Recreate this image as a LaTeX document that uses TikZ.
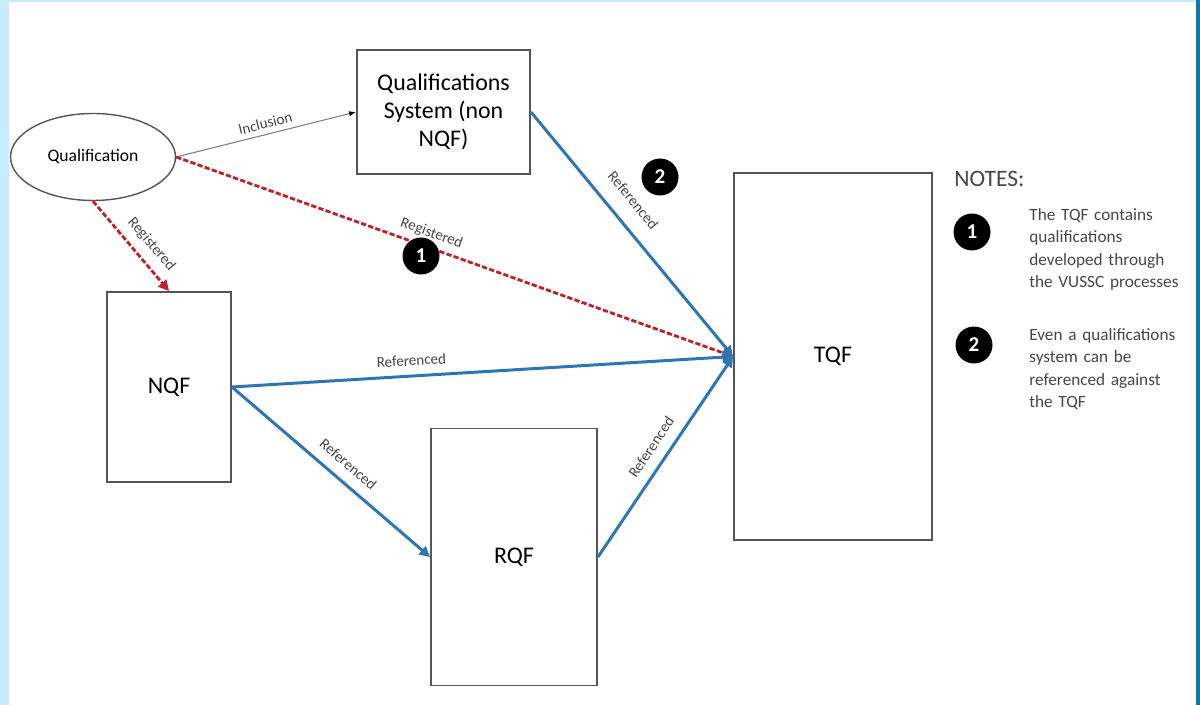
\documentclass[tikz,border=0pt]{standalone}
\usepackage{fontspec}
\setmainfont{Carlito}
\usetikzlibrary{shapes.geometric,arrows.meta}

\definecolor{refblue}{RGB}{46,117,182}
\definecolor{regred}{RGB}{192,32,40}
\definecolor{boxgray}{RGB}{85,85,85}
\definecolor{lblgray}{RGB}{70,70,70}
\definecolor{framelight}{RGB}{198,236,253}
\definecolor{framedark}{RGB}{10,122,168}

\tikzset{
  frame/.style={draw=boxgray, line width=1.1pt, inner sep=0pt, font=\fontsize{13.6}{16}\selectfont},
  oval/.style={ellipse, draw=boxgray, line width=0.8pt, inner sep=0pt, font=\fontsize{10}{12}\selectfont},
  refline/.style={draw=refblue, line width=1.7pt, -{Triangle[length=6pt,width=6pt]}},
  regline/.style={draw=regred, line width=1.6pt, dash pattern=on 3pt off 1.3pt, -{Triangle[length=6pt,width=6pt]}},
  incline/.style={draw=gray, line width=0.6pt, -{Latex[length=4pt,width=3pt,color=black]}},
  lbl/.style={sloped, text=lblgray, inner sep=1pt, font=\fontsize{8.6}{10}\selectfont},
  badge/.style={circle, fill=black, text=white, inner sep=0pt, minimum size=0.74cm, font=\fontsize{12}{12}\bfseries},
  notetext/.style={anchor=north west, inner sep=0pt, align=left, text width=3.4cm, text=lblgray, font=\fontsize{9.8}{12.8}\selectfont}
}

\begin{document}
\begin{tikzpicture}[x=0.02cm, y=-0.02cm]
  \useasboundingbox (0,0) rectangle (1200,705);
  \fill[framelight] (0,0) rectangle (9,705);
  \fill[framelight] (0,0) rectangle (1200,2.5);
  \fill[framedark] (1196,0) rectangle (1200,705);

  \node[oval, minimum width=3.3cm, minimum height=1.74cm] (qual) at (93,157) {Qualification};
  \node[frame, minimum width=3.46cm, minimum height=2.48cm, align=center] (qsys) at (443.5,112) {Qualifications\\System (non\\NQF)};
  \node[frame, minimum width=2.48cm, minimum height=3.8cm] (nqf) at (169,387) {NQF};
  \node[frame, minimum width=3.32cm, minimum height=5.14cm] (rqf) at (514,557) {RQF};
  \node[frame, minimum width=3.96cm, minimum height=7.34cm] (tqf) at (833,356.5) {TQF};

  \draw[incline] (qual.east) -- node[lbl, above=2pt, pos=0.51] {Inclusion} (qsys.west);
  \draw[regline] (qual.south) -- node[lbl, above=4pt, pos=0.6] {Registered} (nqf.north);
  \draw[regline] (qual.east) -- node[lbl, above=2.5pt, pos=0.45] {Registered} (tqf.west);
  \draw[refline] (qsys.east) -- node[lbl, above=8pt, pos=0.42] {Referenced} (tqf.west);
  \draw[refline] (nqf.east) -- node[lbl, above=4pt, pos=0.36] {Referenced} (tqf.west);
  \draw[refline] (nqf.east) -- node[lbl, above=5pt, pos=0.53] {Referenced} (rqf.west);
  \draw[refline] (rqf.east) -- node[lbl, above=5pt, pos=0.5] {Referenced} (tqf.west);

  \node[badge] (mark1) at (421,256) {1};
  \node[badge] (mark2) at (660,177) {2};

  \node[anchor=west, inner sep=0pt, text=lblgray, font=\fontsize{13.4}{16}\selectfont] (notes) at (954,179) {NOTES:};
  \node[badge] (key1) at (972,232) {1};
  \node[notetext] (note1) at (1029,208) {The TQF contains\\qualifications\\developed through\\the VUSSC processes};
  \node[badge] (key2) at (974,345) {2};
  \node[notetext] (note2) at (1029,328) {Even a qualifications\\system can be\\referenced against\\the TQF};
\end{tikzpicture}
\end{document}
